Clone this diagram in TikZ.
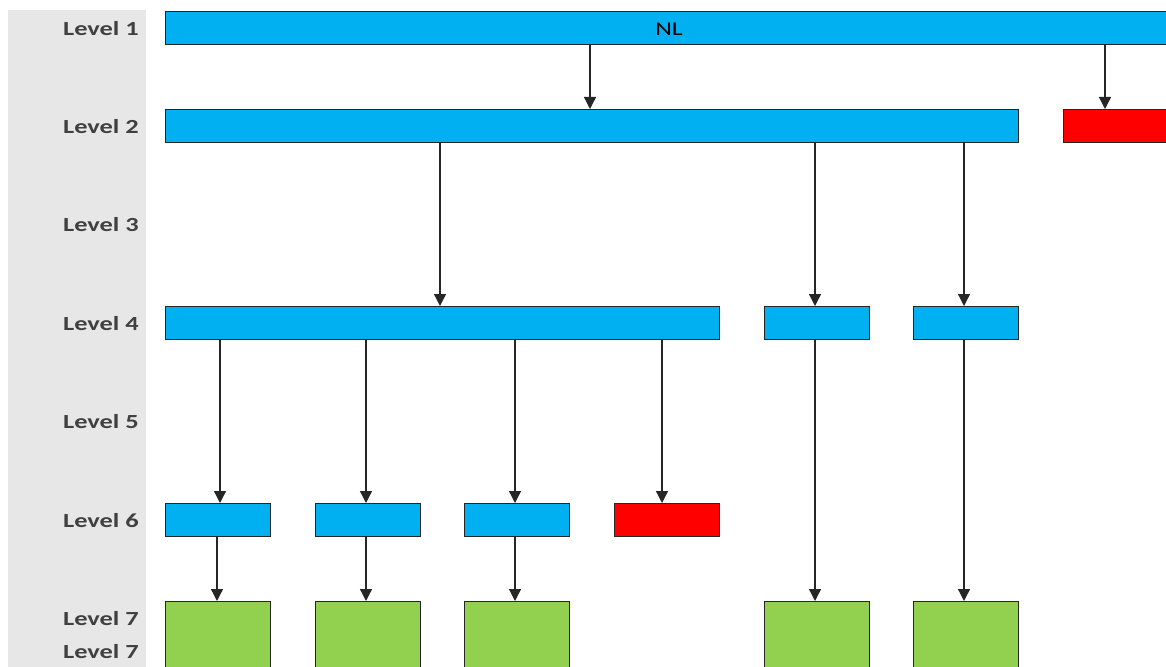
\documentclass[tikz,border=0pt]{standalone}
\usepackage{fontspec}
\setmainfont{Carlito}
\usetikzlibrary{arrows.meta,calc}
\definecolor{barblue}{HTML}{00B0F0}
\definecolor{barred}{HTML}{FF0000}
\definecolor{bargreen}{HTML}{92D050}
\definecolor{stripgray}{HTML}{E7E7E7}
\definecolor{labelgray}{HTML}{404040}
\newcommand{\widetext}[1]{\scalebox{1.32}[1]{#1}}
\tikzset{
  box/.style={draw=black!85, line width=1.4pt, inner sep=0pt, minimum height=33pt, anchor=north west},
  bluebar/.style={box, fill=barblue},
  redbar/.style={box, fill=barred},
  greenbox/.style={box, fill=bargreen, minimum height=80pt},
  lvl/.style={anchor=east, inner sep=0pt, text=labelgray, font=\fontsize{20}{22}\selectfont\bfseries},
  arr/.style={draw=black!85, line width=1.3pt, -{Triangle[length=12pt,width=12pt]}, shorten >=0pt},
}
\begin{document}
\begin{tikzpicture}[x=1pt,y=-1pt]
\useasboundingbox (0,0) rectangle (1166,666);
\clip (0,0) rectangle (1166,666);
\fill[stripgray] (8,10) rectangle (146,670);

% level labels
\foreach \t/\y in {Level 1/29,Level 2/127,Level 3/225,Level 4/324,Level 5/422,Level 6/521,Level 7/619,Level 7/652}
  \node[lvl] at (139,\y) {\widetext{\t}};

% level 1
\node[bluebar, minimum width=1020pt] (n1) at (165,11) {};
\node[font=\fontsize{19.5}{21}\selectfont, inner sep=0pt] (nl) at (669,29) {\widetext{NL}};

% level 2
\node[bluebar, minimum width=853pt] (n2) at (165,109) {};
\node[redbar, minimum width=120pt] (r2) at (1063,109) {};

% level 4
\node[bluebar, minimum width=554pt] (n4a) at (165,306) {};
\node[bluebar, minimum width=105pt] (n4b) at (764,306) {};
\node[bluebar, minimum width=105pt] (n4c) at (913,306) {};

% level 6
\node[bluebar, minimum width=105pt] (n6a) at (165,503) {};
\node[bluebar, minimum width=105pt] (n6b) at (315,503) {};
\node[bluebar, minimum width=105pt] (n6c) at (464,503) {};
\node[redbar,  minimum width=105pt] (r6)  at (614,503) {};

% level 7
\node[greenbox, minimum width=105pt] (g1) at (165,601) {};
\node[greenbox, minimum width=105pt] (g2) at (315,601) {};
\node[greenbox, minimum width=105pt] (g3) at (464,601) {};
\node[greenbox, minimum width=105pt] (g4) at (764,601) {};
\node[greenbox, minimum width=105pt] (g5) at (913,601) {};

% drop points on the bars
\coordinate (d12) at (590,0);
\coordinate (d1r) at (1105,0);
\coordinate (d24) at (440,0);
\coordinate (d4b) at (815,0);
\coordinate (d4c) at (964,0);
\coordinate (d6a) at (220,0);
\coordinate (d6b) at (366,0);
\coordinate (d6c) at (515,0);
\coordinate (d6r) at (662,0);
\coordinate (d7a) at (217,0);
\coordinate (d7b) at (366,0);
\coordinate (d7c) at (515,0);

% connectors
\draw[arr] (d12 |- n1.south) -- (d12 |- n2.north);
\draw[arr] (d1r |- n1.south) -- (d1r |- r2.north);
\draw[arr] (d24 |- n2.south) -- (d24 |- n4a.north);
\draw[arr] (d4b |- n2.south) -- (d4b |- n4b.north);
\draw[arr] (d4c |- n2.south) -- (d4c |- n4c.north);
\draw[arr] (d6a |- n4a.south) -- (d6a |- n6a.north);
\draw[arr] (d6b |- n4a.south) -- (d6b |- n6b.north);
\draw[arr] (d6c |- n4a.south) -- (d6c |- n6c.north);
\draw[arr] (d6r |- n4a.south) -- (d6r |- r6.north);
\draw[arr] (d7a |- n6a.south) -- (d7a |- g1.north);
\draw[arr] (d7b |- n6b.south) -- (d7b |- g2.north);
\draw[arr] (d7c |- n6c.south) -- (d7c |- g3.north);
\draw[arr] (d4b |- n4b.south) -- (d4b |- g4.north);
\draw[arr] (d4c |- n4c.south) -- (d4c |- g5.north);
\end{tikzpicture}
\end{document}
